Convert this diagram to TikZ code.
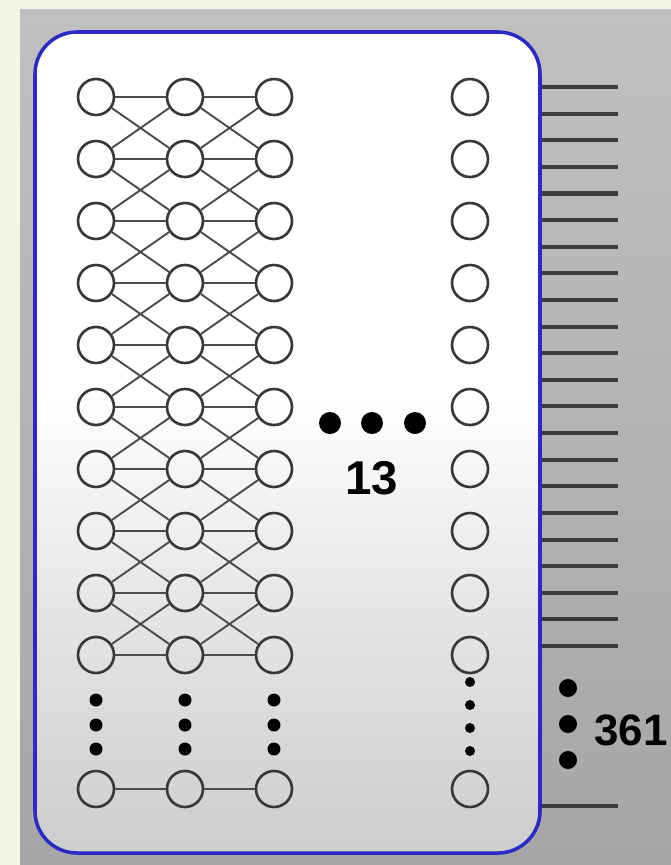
\documentclass[tikz,border=0pt]{standalone}
\usepackage{fontspec}
\setmainfont{Liberation Sans}
\usetikzlibrary{positioning}
\definecolor{cream}{HTML}{F5F5E6}
\definecolor{paneltop}{HTML}{C0C0C0}
\definecolor{panelmid}{HTML}{D4D4D4}
\definecolor{panelbot}{HTML}{A6A6A6}
\definecolor{frameblue}{HTML}{2A2AC4}
\definecolor{ringgray}{HTML}{383838}
\definecolor{linkgray}{HTML}{4C4C4C}
\definecolor{pingray}{HTML}{3C3C3C}
\definecolor{boxbot}{HTML}{CDCDCD}
\pgfdeclareverticalshading{boxfade}{100bp}{color(0bp)=(boxbot); color(25bp)=(boxbot); color(40bp)=(white!90!black); color(53bp)=(white); color(100bp)=(white)}

\begin{document}
\begin{tikzpicture}[x=0.2mm, y=-0.2mm,
    frame/.style={draw=frameblue, line width=2pt, rounded corners=8.4mm, minimum width=101mm, minimum height=164.2mm, inner sep=0pt, outer sep=0pt, shading=boxfade},
    neuron/.style={circle, draw=ringgray, line width=1.5pt, minimum size=7.2mm, inner sep=0pt},
    link/.style={draw=linkgray, line width=1.1pt},
    bullet/.style={circle, fill=black, inner sep=0pt, minimum size=#1},
    bullet/.default=2.6mm,
    wire/.style={draw=pingray, line width=2.3pt},
    big num/.style={font=\fontsize{27}{30}\selectfont\bfseries, inner sep=0pt},
]

% Background and panel
\useasboundingbox (0,0) rectangle (671,865);
\fill[cream] (0,0) rectangle (671,865);
\fill[top color=paneltop, middle color=panelmid, bottom color=panelbot] (20,9) rectangle (671,865);

% Output pins
\foreach \i [evaluate=\i as \ty using 87+26.62*\i] in {0,...,21}
    \draw[wire] (535,\ty) -- (618,\ty);
\draw[wire] (535,806) -- (618,806);

% Chip outline
\node[frame] (box) at (287.5,442.5) {};

% Neurons
\foreach \r [evaluate=\r as \ry using 97+62*(\r-1)] in {1,...,10} {
    \foreach \c/\cx in {1/96, 2/185, 3/274}
        \node[neuron] (n-\c-\r) at (\cx,\ry) {};
    \node[neuron] (out-\r) at (470,\ry) {};
}
\foreach \c/\cx in {1/96, 2/185, 3/274}
    \node[neuron] (n-\c-11) at (\cx,789) {};
\node[neuron] (out-11) at (470,789) {};

% Links between layers
\foreach \c [count=\d from 2] in {1,2} {
    \foreach \r in {1,...,10}
        \draw[link] (n-\c-\r) -- (n-\d-\r);
    \foreach \r [count=\s from 2] in {1,...,9} {
        \draw[link] (n-\c-\r) -- (n-\d-\s);
        \draw[link] (n-\c-\s) -- (n-\d-\r);
    }
    \draw[link] (n-\c-11) -- (n-\d-11);
}

% Vertical ellipses
\foreach \cx in {96, 185, 274}
    \foreach \dy in {700, 725, 749}
        \node[bullet] at (\cx,\dy) {};
\foreach \dy in {682, 705, 728, 751}
    \node[bullet=2mm] at (470,\dy) {};

% Layer count
\foreach \dx in {330, 372, 415}
    \node[bullet=4.4mm] (h-\dx) at (\dx,423) {};
\node[big num] (layers) at (372,478) {13};

% Pin count
\foreach \dy in {688, 724, 760}
    \node[bullet=3.6mm] (v-\dy) at (568,\dy) {};
\node[big num, font=\fontsize{25}{28}\selectfont\bfseries, anchor=west] (pins) at (594,730) {361};

\end{tikzpicture}
\end{document}
